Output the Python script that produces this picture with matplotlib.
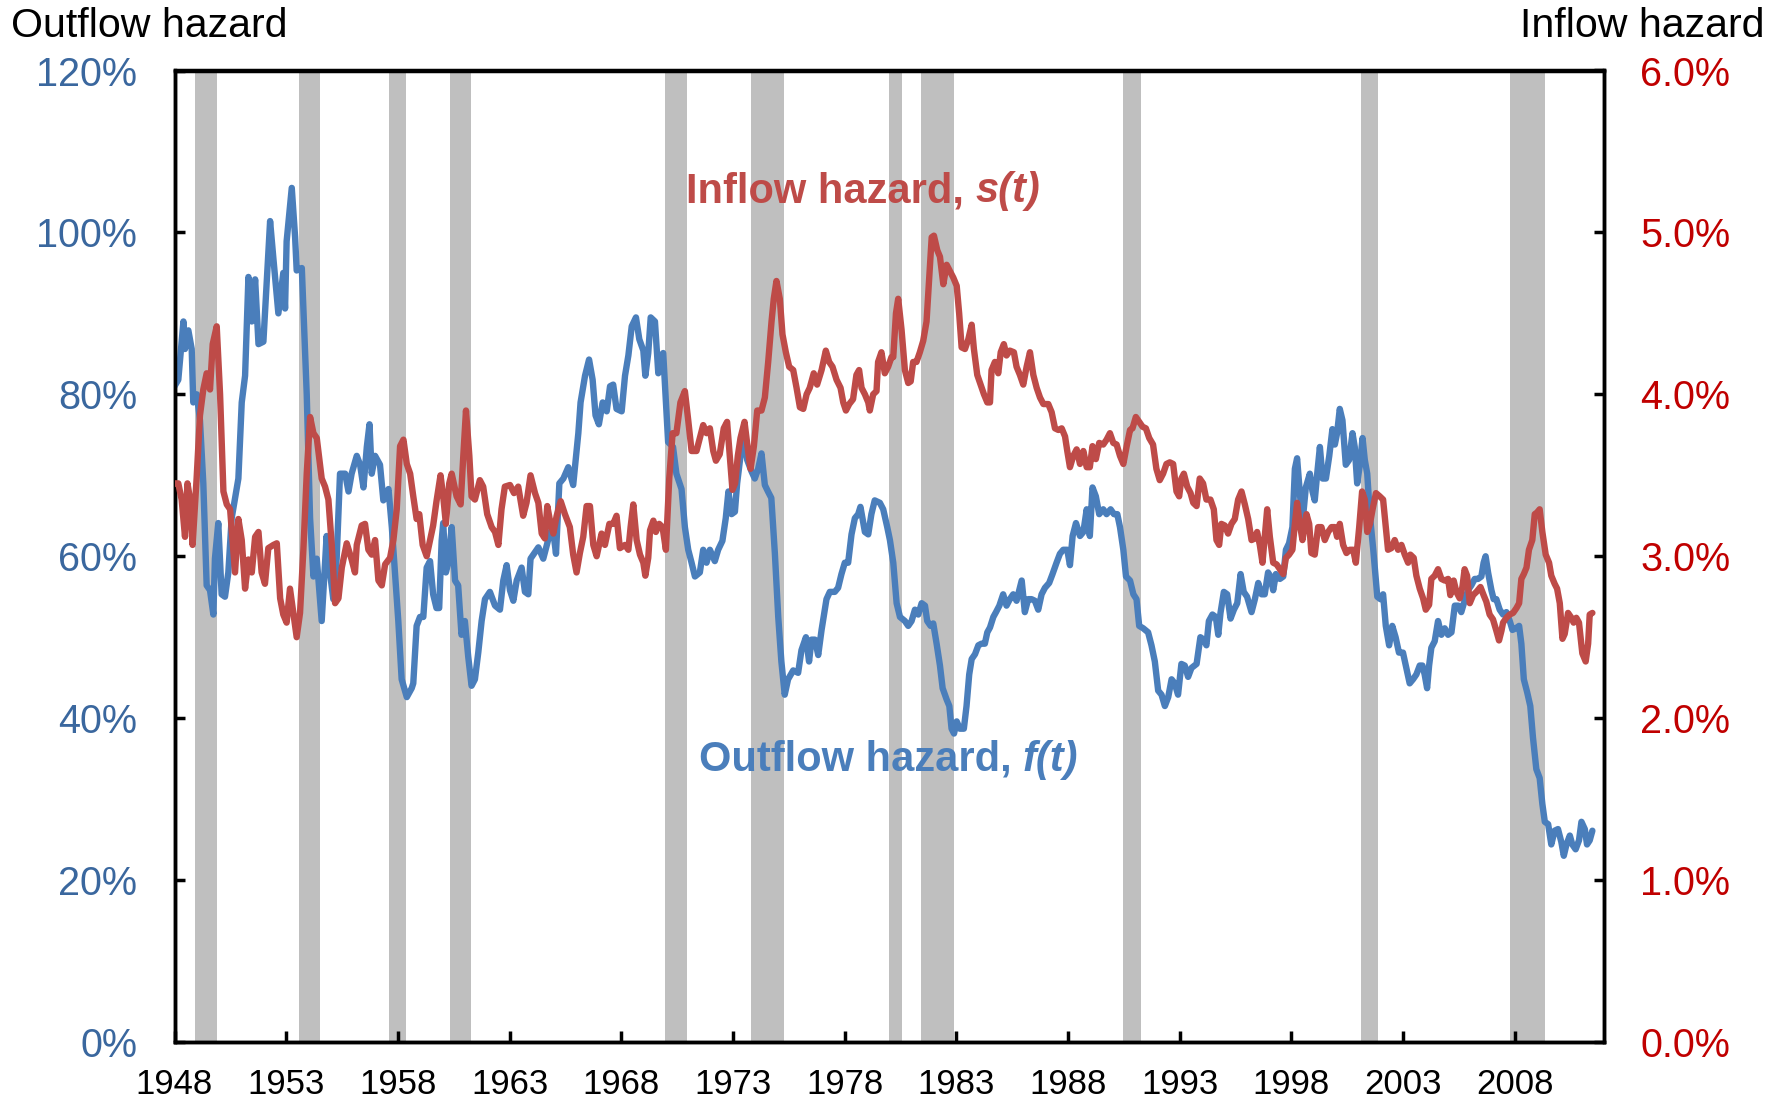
import matplotlib
matplotlib.use("Agg")
import matplotlib.pyplot as plt

plt.rcParams['font.family'] = ['Liberation Sans', 'DejaVu Sans']

# outflow hazard f(t), percent (left axis)
f_year = [1948.0, 1948.17, 1948.4, 1948.47, 1948.62, 1948.77, 1948.84, 1949.0, 1949.14, 1949.29,
          1949.44, 1949.59, 1949.74, 1949.81, 1949.96, 1950.11, 1950.26, 1950.41, 1950.56, 1950.86,
          1951.01, 1951.16, 1951.31, 1951.46, 1951.61, 1951.76, 1951.98, 1952.13, 1952.28, 1952.43,
          1952.65, 1952.87, 1952.95, 1953.02, 1953.25, 1953.4, 1953.47, 1953.7, 1953.92, 1954.07,
          1954.22, 1954.37, 1954.59, 1954.81, 1954.96, 1955.11, 1955.26, 1955.41, 1955.64, 1955.79,
          1955.93, 1956.16, 1956.31, 1956.46, 1956.61, 1956.73, 1956.83, 1956.98, 1957.2, 1957.35,
          1957.58, 1957.73, 1957.87, 1958.02, 1958.17, 1958.4, 1958.62, 1958.69, 1958.84, 1958.99,
          1959.14, 1959.29, 1959.44, 1959.58, 1959.73, 1959.85, 1959.96, 1960.03, 1960.15, 1960.26,
          1960.41, 1960.56, 1960.7, 1960.85, 1961.0, 1961.15, 1961.3, 1961.45, 1961.6, 1961.75,
          1961.9, 1962.12, 1962.35, 1962.57, 1962.72, 1962.87, 1963.02, 1963.17, 1963.32, 1963.54,
          1963.69, 1963.84, 1963.94, 1964.09, 1964.29, 1964.51, 1964.69, 1964.81, 1964.96, 1965.08,
          1965.23, 1965.41, 1965.63, 1965.85, 1966.08, 1966.18, 1966.38, 1966.56, 1966.72, 1966.85,
          1967.0, 1967.17, 1967.35, 1967.5, 1967.64, 1967.79, 1968.02, 1968.17, 1968.32, 1968.47,
          1968.66, 1968.81, 1968.99, 1969.08, 1969.21, 1969.32, 1969.51, 1969.66, 1969.73, 1969.88,
          1970.0, 1970.1, 1970.32, 1970.47, 1970.7, 1970.85, 1971.0, 1971.15, 1971.3, 1971.52,
          1971.67, 1971.82, 1971.97, 1972.19, 1972.34, 1972.53, 1972.68, 1972.8, 1972.94, 1973.09,
          1973.19, 1973.34, 1973.49, 1973.64, 1973.83, 1973.98, 1974.13, 1974.28, 1974.43, 1974.57,
          1974.72, 1974.88, 1975.03, 1975.17, 1975.32, 1975.47, 1975.7, 1975.92, 1976.07, 1976.27,
          1976.41, 1976.52, 1976.67, 1976.82, 1976.97, 1977.19, 1977.34, 1977.56, 1977.71, 1977.86,
          1978.01, 1978.16, 1978.31, 1978.46, 1978.61, 1978.71, 1978.91, 1979.06, 1979.2, 1979.35,
          1979.58, 1979.73, 1979.91, 1980.03, 1980.18, 1980.33, 1980.48, 1980.7, 1980.85, 1981.0,
          1981.15, 1981.3, 1981.45, 1981.6, 1981.7, 1981.85, 1981.97, 1982.12, 1982.27, 1982.39,
          1982.57, 1982.69, 1982.79, 1982.9, 1983.02, 1983.16, 1983.34, 1983.46, 1983.58, 1983.69,
          1983.84, 1983.99, 1984.13, 1984.28, 1984.39, 1984.51, 1984.66, 1984.78, 1984.93, 1985.1,
          1985.25, 1985.4, 1985.55, 1985.7, 1985.93, 1986.07, 1986.22, 1986.37, 1986.52, 1986.67,
          1986.82, 1986.97, 1987.16, 1987.31, 1987.49, 1987.64, 1987.79, 1987.97, 1988.09, 1988.21,
          1988.36, 1988.54, 1988.69, 1988.84, 1988.98, 1989.1, 1989.25, 1989.4, 1989.58, 1989.73,
          1989.91, 1990.06, 1990.21, 1990.33, 1990.48, 1990.6, 1990.78, 1990.93, 1991.07, 1991.19,
          1991.37, 1991.59, 1991.74, 1991.89, 1992.04, 1992.19, 1992.34, 1992.49, 1992.64, 1992.78,
          1992.93, 1993.08, 1993.23, 1993.38, 1993.53, 1993.76, 1993.93, 1994.08, 1994.2, 1994.31,
          1994.47, 1994.62, 1994.73, 1994.83, 1994.98, 1995.13, 1995.28, 1995.43, 1995.58, 1995.73,
          1995.87, 1996.02, 1996.22, 1996.37, 1996.52, 1996.67, 1996.81, 1996.96, 1997.07, 1997.19,
          1997.31, 1997.49, 1997.64, 1997.76, 1997.9, 1998.05, 1998.16, 1998.26, 1998.41, 1998.5,
          1998.65, 1998.83, 1998.95, 1999.05, 1999.16, 1999.28, 1999.4, 1999.55, 1999.7, 1999.84,
          1999.95, 2000.05, 2000.17, 2000.29, 2000.44, 2000.59, 2000.74, 2000.84, 2000.95, 2001.07,
          2001.19, 2001.29, 2001.4, 2001.52, 2001.67, 2001.85, 2001.99, 2002.11, 2002.23, 2002.38,
          2002.52, 2002.67, 2002.82, 2003.0, 2003.15, 2003.3, 2003.45, 2003.6, 2003.75, 2003.87,
          2003.97, 2004.08, 2004.17, 2004.27, 2004.42, 2004.57, 2004.72, 2004.87, 2005.02, 2005.17,
          2005.32, 2005.47, 2005.61, 2005.76, 2005.91, 2006.06, 2006.21, 2006.36, 2006.51, 2006.61,
          2006.7, 2006.81, 2006.96, 2007.06, 2007.18, 2007.33, 2007.48, 2007.63, 2007.78, 2007.9,
          2008.05, 2008.2, 2008.3, 2008.41, 2008.56, 2008.7, 2008.82, 2008.97, 2009.12, 2009.24,
          2009.35, 2009.5, 2009.64, 2009.79, 2009.94, 2010.09, 2010.2, 2010.32, 2010.47, 2010.58,
          2010.73, 2010.88, 2010.99, 2011.14, 2011.24, 2011.36, 2011.48]
f_val = [81.0, 81.8, 89.0, 85.6, 87.9, 85.6, 79.0, 80.0, 76.8, 69.0,
         56.4, 55.8, 52.8, 59.7, 64.1, 55.3, 55.0, 58.0, 64.7, 69.6,
         79.0, 82.3, 94.5, 89.0, 94.2, 86.2, 86.5, 94.0, 101.4, 96.7,
         90.0, 95.0, 90.6, 98.9, 105.5, 99.4, 95.3, 95.6, 80.0, 64.7,
         57.5, 59.7, 52.0, 62.5, 58.0, 54.7, 59.7, 70.2, 70.2, 68.0,
         70.2, 72.4, 71.3, 68.5, 73.5, 76.3, 70.2, 72.4, 71.3, 66.9,
         68.3, 63.6, 58.0, 52.0, 44.8, 42.6, 43.7, 44.3, 51.4, 52.5,
         52.5, 58.6, 59.4, 55.3, 53.6, 53.6, 61.9, 64.1, 58.0, 59.2,
         63.6, 57.0, 56.4, 50.3, 52.0, 47.6, 44.0, 44.8, 48.1, 52.0,
         54.7, 55.6, 53.9, 53.4, 57.0, 58.9, 55.8, 54.5, 57.0, 58.6,
         55.6, 55.3, 59.7, 60.3, 61.1, 59.7, 61.6, 63.0, 63.0, 60.3,
         69.0, 69.6, 71.0, 68.8, 75.2, 79.0, 82.3, 84.3, 81.8, 77.4,
         76.3, 79.0, 77.9, 81.0, 81.2, 78.2, 77.9, 82.3, 84.8, 88.4,
         89.5, 86.8, 85.4, 82.3, 85.1, 89.5, 89.0, 82.6, 84.5, 85.1,
         79.0, 74.1, 73.5, 70.2, 68.3, 63.6, 60.8, 59.2, 57.5, 58.0,
         60.8, 59.2, 60.8, 59.4, 60.8, 61.9, 64.7, 68.0, 65.2, 65.5,
         69.0, 72.4, 74.6, 71.9, 70.5, 69.6, 70.8, 72.7, 68.8, 68.0,
         67.2, 60.3, 52.5, 47.0, 42.9, 44.8, 45.9, 45.6, 48.4, 50.0,
         47.0, 49.7, 49.7, 47.8, 50.9, 54.7, 55.6, 55.6, 56.1, 57.8,
         59.2, 59.2, 62.7, 64.7, 65.2, 66.1, 63.0, 62.7, 65.2, 66.9,
         66.6, 65.8, 63.6, 62.0, 59.2, 54.2, 52.5, 52.0, 51.4, 52.0,
         53.4, 52.8, 54.2, 53.9, 52.0, 51.4, 51.7, 49.2, 46.5, 43.7,
         42.3, 41.5, 38.7, 38.1, 39.6, 38.7, 38.7, 41.5, 45.4, 47.3,
         47.9, 49.0, 49.2, 49.2, 50.6, 51.2, 52.5, 53.1, 53.9, 55.3,
         53.9, 54.7, 55.3, 54.5, 57.0, 53.1, 54.7, 54.7, 54.5, 53.4,
         55.3, 56.1, 56.7, 57.8, 59.2, 60.3, 60.8, 60.8, 58.9, 62.5,
         64.1, 62.5, 63.0, 65.8, 62.5, 68.5, 67.4, 65.2, 65.8, 65.2,
         65.8, 65.2, 65.2, 63.6, 60.8, 57.5, 57.0, 55.3, 54.7, 51.4,
         51.1, 50.6, 49.0, 47.0, 43.4, 42.9, 41.5, 42.6, 44.8, 44.3,
         42.9, 46.7, 46.5, 45.1, 46.2, 46.7, 50.0, 49.7, 49.0, 52.0,
         52.8, 52.5, 50.3, 53.0, 55.6, 55.3, 52.3, 53.4, 54.2, 57.8,
         55.6, 55.0, 53.1, 54.7, 56.7, 55.3, 55.3, 58.0, 57.5, 55.8,
         57.8, 57.2, 57.5, 60.8, 61.6, 63.6, 70.8, 72.1, 66.9, 64.1,
         68.5, 70.2, 68.0, 66.9, 70.2, 73.5, 69.6, 69.6, 72.4, 75.7,
         73.8, 75.2, 78.2, 76.8, 71.3, 71.9, 75.2, 73.5, 69.0, 71.3,
         74.6, 71.9, 70.2, 65.0, 60.8, 55.0, 54.7, 55.3, 51.4, 49.0,
         51.4, 50.0, 48.1, 48.1, 46.2, 44.3, 44.8, 45.4, 46.5, 46.5,
         45.4, 43.7, 46.5, 48.7, 49.5, 52.0, 50.3, 51.1, 50.3, 50.6,
         53.9, 53.9, 53.1, 54.5, 55.8, 56.4, 57.2, 57.2, 57.5, 59.2,
         60.0, 58.0, 55.8, 54.7, 54.7, 53.4, 52.8, 53.1, 52.0, 50.9,
         51.1, 51.4, 49.2, 44.8, 43.2, 41.5, 37.6, 33.7, 32.6, 29.4,
         27.2, 26.9, 24.4, 26.1, 26.3, 24.7, 23.0, 24.4, 25.5, 24.4,
         23.8, 24.9, 27.2, 26.3, 24.4, 24.9, 26.1]

# inflow hazard s(t), percent (right axis)
s_year = [1948.0, 1948.17, 1948.32, 1948.47, 1948.58, 1948.7, 1948.81, 1948.99, 1949.14, 1949.29,
          1949.44, 1949.59, 1949.71, 1949.89, 1950.04, 1950.19, 1950.34, 1950.49, 1950.71, 1950.86,
          1951.01, 1951.16, 1951.31, 1951.46, 1951.61, 1951.76, 1951.9, 1952.05, 1952.2, 1952.43,
          1952.58, 1952.73, 1952.87, 1953.02, 1953.17, 1953.32, 1953.47, 1953.62, 1953.77, 1953.92,
          1954.07, 1954.22, 1954.37, 1954.59, 1954.74, 1954.89, 1955.04, 1955.19, 1955.34, 1955.49,
          1955.71, 1955.93, 1956.08, 1956.16, 1956.38, 1956.53, 1956.68, 1956.83, 1956.98, 1957.13,
          1957.28, 1957.43, 1957.65, 1957.8, 1957.95, 1958.1, 1958.25, 1958.4, 1958.55, 1958.69,
          1958.84, 1958.96, 1959.11, 1959.29, 1959.44, 1959.58, 1959.73, 1959.91, 1960.03, 1960.15,
          1960.3, 1960.41, 1960.63, 1960.81, 1960.93, 1961.05, 1961.2, 1961.3, 1961.45, 1961.67,
          1961.82, 1962.0, 1962.2, 1962.35, 1962.5, 1962.64, 1962.79, 1963.02, 1963.2, 1963.39,
          1963.61, 1963.76, 1963.94, 1964.14, 1964.29, 1964.44, 1964.58, 1964.69, 1964.81, 1964.96,
          1965.11, 1965.29, 1965.48, 1965.7, 1965.85, 1966.0, 1966.15, 1966.3, 1966.45, 1966.6,
          1966.75, 1966.9, 1967.12, 1967.27, 1967.47, 1967.64, 1967.79, 1967.94, 1968.17, 1968.32,
          1968.42, 1968.54, 1968.69, 1968.84, 1968.99, 1969.08, 1969.21, 1969.29, 1969.44, 1969.55,
          1969.7, 1969.85, 1970.0, 1970.15, 1970.3, 1970.47, 1970.65, 1970.85, 1971.0, 1971.15,
          1971.37, 1971.52, 1971.67, 1971.82, 1971.97, 1972.12, 1972.24, 1972.41, 1972.59, 1972.74,
          1972.86, 1972.98, 1973.1, 1973.22, 1973.34, 1973.52, 1973.68, 1973.79, 1973.94, 1974.09,
          1974.28, 1974.43, 1974.58, 1974.73, 1974.83, 1974.95, 1975.1, 1975.22, 1975.37, 1975.52,
          1975.7, 1975.85, 1976.0, 1976.15, 1976.3, 1976.44, 1976.62, 1976.77, 1976.97, 1977.16,
          1977.31, 1977.46, 1977.64, 1977.82, 1977.94, 1978.06, 1978.21, 1978.38, 1978.53, 1978.65,
          1978.76, 1978.91, 1979.06, 1979.13, 1979.28, 1979.43, 1979.5, 1979.65, 1979.8, 1979.95,
          1980.1, 1980.18, 1980.3, 1980.4, 1980.55, 1980.7, 1980.85, 1980.96, 1981.07, 1981.22,
          1981.37, 1981.52, 1981.67, 1981.79, 1981.9, 1982.0, 1982.15, 1982.27, 1982.42, 1982.57,
          1982.72, 1982.87, 1983.02, 1983.13, 1983.24, 1983.39, 1983.54, 1983.69, 1983.79, 1983.94,
          1984.09, 1984.24, 1984.39, 1984.51, 1984.58, 1984.73, 1984.88, 1984.99, 1985.13, 1985.25,
          1985.4, 1985.58, 1985.7, 1985.85, 1986.0, 1986.15, 1986.3, 1986.45, 1986.6, 1986.75,
          1986.9, 1987.12, 1987.27, 1987.42, 1987.57, 1987.72, 1987.87, 1987.97, 1988.09, 1988.24,
          1988.39, 1988.54, 1988.69, 1988.84, 1988.98, 1989.1, 1989.25, 1989.4, 1989.58, 1989.73,
          1989.88, 1990.03, 1990.18, 1990.33, 1990.48, 1990.63, 1990.78, 1990.89, 1991.04, 1991.19,
          1991.34, 1991.49, 1991.64, 1991.81, 1991.96, 1992.11, 1992.26, 1992.41, 1992.56, 1992.71,
          1992.86, 1992.98, 1993.08, 1993.19, 1993.34, 1993.49, 1993.61, 1993.76, 1993.9, 1994.05,
          1994.2, 1994.38, 1994.53, 1994.65, 1994.77, 1994.87, 1995.02, 1995.17, 1995.32, 1995.47,
          1995.62, 1995.77, 1995.92, 1996.07, 1996.22, 1996.37, 1996.47, 1996.59, 1996.71, 1996.81,
          1996.92, 1997.04, 1997.19, 1997.34, 1997.49, 1997.64, 1997.76, 1997.9, 1998.05, 1998.16,
          1998.26, 1998.38, 1998.5, 1998.68, 1998.8, 1998.9, 1999.05, 1999.2, 1999.35, 1999.5,
          1999.65, 1999.8, 1999.95, 2000.05, 2000.17, 2000.32, 2000.47, 2000.62, 2000.77, 2000.89,
          2001.04, 2001.17, 2001.29, 2001.4, 2001.52, 2001.64, 2001.79, 2001.96, 2002.11, 2002.23,
          2002.33, 2002.48, 2002.63, 2002.78, 2002.93, 2003.08, 2003.23, 2003.33, 2003.48, 2003.6,
          2003.75, 2003.9, 2004.02, 2004.17, 2004.27, 2004.42, 2004.57, 2004.72, 2004.87, 2005.02,
          2005.12, 2005.27, 2005.39, 2005.54, 2005.66, 2005.76, 2005.87, 2005.99, 2006.14, 2006.29,
          2006.47, 2006.61, 2006.73, 2006.88, 2007.03, 2007.18, 2007.3, 2007.41, 2007.48, 2007.63,
          2007.78, 2007.93, 2008.08, 2008.2, 2008.3, 2008.41, 2008.53, 2008.64, 2008.79, 2008.9,
          2009.0, 2009.12, 2009.24, 2009.39, 2009.54, 2009.64, 2009.79, 2009.9, 2010.02, 2010.14,
          2010.24, 2010.39, 2010.54, 2010.64, 2010.76, 2010.88, 2011.03, 2011.18, 2011.29, 2011.36,
          2011.48]
s_val = [3.45, 3.45, 3.35, 3.12, 3.45, 3.35, 3.07, 3.48, 3.87, 4.03,
         4.13, 4.03, 4.31, 4.42, 4.0, 3.4, 3.32, 3.29, 2.9, 3.23,
         3.1, 2.8, 2.98, 2.9, 3.12, 3.15, 2.9, 2.83, 3.05, 3.07,
         3.08, 2.74, 2.64, 2.59, 2.8, 2.65, 2.5, 2.65, 3.04, 3.51,
         3.86, 3.76, 3.73, 3.48, 3.43, 3.35, 3.07, 2.71, 2.74, 2.93,
         3.08, 2.98, 2.9, 3.07, 3.19, 3.2, 3.04, 3.01, 3.1, 2.85,
         2.82, 2.95, 2.99, 3.1, 3.29, 3.68, 3.72, 3.57, 3.51, 3.37,
         3.23, 3.26, 3.07, 3.0, 3.1, 3.19, 3.34, 3.5, 3.37, 3.2,
         3.45, 3.51, 3.37, 3.32, 3.62, 3.9, 3.62, 3.37, 3.35, 3.47,
         3.43, 3.26, 3.18, 3.15, 3.07, 3.29, 3.43, 3.44, 3.39, 3.43,
         3.25, 3.33, 3.5, 3.39, 3.33, 3.14, 3.11, 3.31, 3.22, 3.14,
         3.25, 3.34, 3.26, 3.18, 3.01, 2.9, 3.02, 3.12, 3.31, 3.31,
         3.07, 3.0, 3.14, 3.07, 3.2, 3.2, 3.25, 3.05, 3.07, 3.04,
         3.18, 3.32, 3.1, 3.01, 2.96, 2.88, 2.99, 3.16, 3.22, 3.15,
         3.2, 3.18, 3.04, 3.48, 3.76, 3.76, 3.95, 4.02, 3.84, 3.65,
         3.65, 3.73, 3.81, 3.76, 3.79, 3.65, 3.59, 3.63, 3.79, 3.83,
         3.62, 3.41, 3.45, 3.62, 3.73, 3.83, 3.65, 3.54, 3.68, 3.9,
         3.9, 3.98, 4.2, 4.45, 4.59, 4.7, 4.59, 4.37, 4.26, 4.17,
         4.15, 4.04, 3.92, 3.91, 4.0, 4.04, 4.13, 4.06, 4.15, 4.27,
         4.2, 4.17, 4.09, 4.04, 3.95, 3.9, 3.94, 3.97, 4.12, 4.15,
         4.04, 4.0, 3.95, 3.9, 4.0, 4.02, 4.2, 4.26, 4.13, 4.17,
         4.23, 4.23, 4.5, 4.59, 4.4, 4.15, 4.07, 4.08, 4.2, 4.2,
         4.26, 4.33, 4.45, 4.72, 4.97, 4.98, 4.89, 4.85, 4.68, 4.8,
         4.76, 4.72, 4.67, 4.5, 4.29, 4.28, 4.34, 4.43, 4.28, 4.12,
         4.06, 4.0, 3.95, 3.95, 4.15, 4.2, 4.13, 4.26, 4.31, 4.24,
         4.27, 4.26, 4.17, 4.12, 4.06, 4.17, 4.26, 4.12, 4.04, 3.98,
         3.94, 3.94, 3.89, 3.79, 3.78, 3.79, 3.74, 3.65, 3.55, 3.62,
         3.66, 3.57, 3.65, 3.55, 3.55, 3.68, 3.6, 3.7, 3.69, 3.72,
         3.76, 3.7, 3.69, 3.62, 3.57, 3.68, 3.78, 3.79, 3.86, 3.83,
         3.8, 3.79, 3.73, 3.69, 3.54, 3.47, 3.51, 3.57, 3.58, 3.57,
         3.4, 3.37, 3.48, 3.51, 3.43, 3.39, 3.33, 3.31, 3.48, 3.45,
         3.35, 3.35, 3.29, 3.1, 3.07, 3.2, 3.19, 3.14, 3.2, 3.23,
         3.35, 3.4, 3.32, 3.23, 3.1, 3.11, 3.15, 3.07, 2.96, 3.12,
         3.29, 3.12, 2.96, 2.95, 2.92, 2.89, 2.99, 3.01, 3.04, 3.2,
         3.33, 3.2, 3.1, 3.26, 3.2, 3.02, 3.01, 3.18, 3.18, 3.1,
         3.15, 3.18, 3.18, 3.12, 3.2, 3.07, 3.02, 3.04, 3.04, 2.96,
         3.18, 3.4, 3.35, 3.15, 3.2, 3.29, 3.39, 3.37, 3.35, 3.18,
         3.04, 3.05, 3.1, 3.04, 3.07, 3.01, 2.96, 3.01, 2.99, 2.88,
         2.8, 2.74, 2.67, 2.7, 2.86, 2.88, 2.92, 2.86, 2.85, 2.86,
         2.76, 2.85, 2.78, 2.74, 2.81, 2.92, 2.88, 2.71, 2.76, 2.78,
         2.81, 2.76, 2.72, 2.64, 2.61, 2.54, 2.48, 2.54, 2.59, 2.62,
         2.64, 2.65, 2.68, 2.71, 2.86, 2.89, 2.93, 3.04, 3.1, 3.26,
         3.27, 3.29, 3.15, 3.01, 2.96, 2.88, 2.83, 2.8, 2.71, 2.49,
         2.52, 2.65, 2.62, 2.59, 2.62, 2.59, 2.4, 2.35, 2.46, 2.64,
         2.65]

# recession bands (start, end) as shaded in the chart
rec_start = [1948.92, 1953.56, 1957.59, 1960.35, 1969.94, 1973.82, 1979.99, 1981.42, 1990.45, 2001.11, 2007.80]
rec_end = [1949.89, 1954.53, 1958.36, 1961.27, 1970.96, 1975.30, 1980.55, 1982.90, 1991.27, 2001.88, 2009.38]

year_ticks = list(range(1948, 2009, 5))
left_ticks = [0, 20, 40, 60, 80, 100, 120]
right_ticks = [0.0, 1.0, 2.0, 3.0, 4.0, 5.0, 6.0]

blue = '#4A7EBB'
red = '#BE4B48'
W, H = 1787, 1102

fig = plt.figure(figsize=(W / 100, H / 100), dpi=100)
ax = fig.add_axes([174.5 / W, 1 - 1042 / H, (1604 - 174.5) / W, (1042 - 70.5) / H])
ax2 = ax.twinx()

for a, b in zip(rec_start, rec_end):
    ax.axvspan(a, b, color='#BFBFBF', lw=0, zorder=0)

ax.plot(f_year, f_val, color=blue, lw=4.6, solid_joinstyle='round', solid_capstyle='round', zorder=3)
ax2.plot(s_year, s_val, color=red, lw=4.6, solid_joinstyle='round', solid_capstyle='round', zorder=3)

ax.set_xlim(1948, 2012)
ax.set_ylim(0, 120)
ax2.set_ylim(0, 6)

ax.set_xticks(year_ticks)
ax.set_xticklabels([str(y) for y in year_ticks])
ax.set_yticks(left_ticks)
ax.set_yticklabels(['%d%%' % v for v in left_ticks])
ax2.set_yticks(right_ticks)
ax2.set_yticklabels(['%.1f%%' % v for v in right_ticks])

ax.tick_params(axis='x', direction='in', length=8, width=2.5, labelsize=25, pad=19, colors='black')
ax.tick_params(axis='y', direction='in', length=7.5, width=2.5, labelsize=28.5, pad=27,
               color='black', labelcolor='#3A679E')
ax2.tick_params(axis='y', direction='in', length=7.5, width=2.5, labelsize=28.5, pad=26,
                color='black', labelcolor='#C00000')

for a in (ax, ax2):
    for sp in a.spines.values():
        sp.set_linewidth(2.5)
        sp.set_color('black')

# series labels: upright bold part followed by a bold italic s(t) / f(t)
t_in = ax2.text(0.3578, 0.8646, 'Inflow hazard,', transform=ax.transAxes, ha='left',
                va='baseline', fontsize=30, fontweight='bold', color=red, zorder=5)
ax2.annotate('s(t)', xy=(1, 0), xycoords=t_in, xytext=(8.3, 0), textcoords='offset points',
             ha='left', va='bottom', fontsize=30, fontweight='bold', fontstyle='italic',
             color=red, zorder=5)
t_out = ax2.text(0.3666, 0.279, 'Outflow hazard,', transform=ax.transAxes, ha='left',
                 va='baseline', fontsize=30, fontweight='bold', color=blue, zorder=5)
ax2.annotate('f(t)', xy=(1, 0), xycoords=t_out, xytext=(8.3, 0), textcoords='offset points',
             ha='left', va='bottom', fontsize=30, fontweight='bold', fontstyle='italic',
             color=blue, zorder=5)

fig.text(11 / W, 1 - 37 / H, 'Outflow hazard', ha='left', va='baseline', fontsize=29.6)
fig.text(1765 / W, 1 - 37 / H, 'Inflow hazard', ha='right', va='baseline', fontsize=29.6)

fig.savefig('out.png', dpi=100)
